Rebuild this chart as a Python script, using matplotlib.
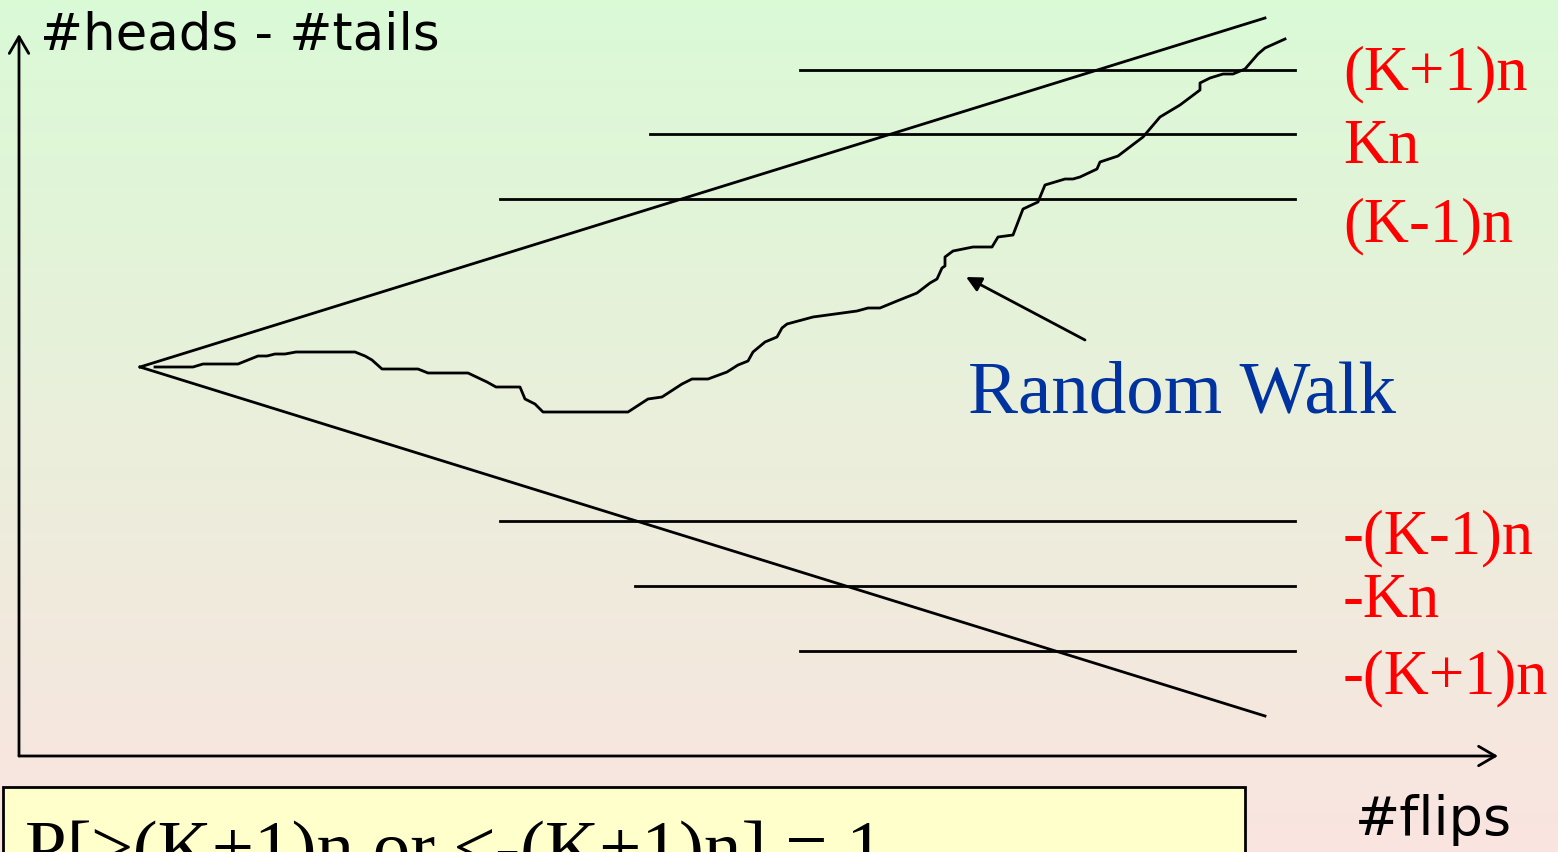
import numpy as np
import matplotlib
matplotlib.use("Agg")
import matplotlib.pyplot as plt
from matplotlib.patches import Rectangle

# --------- data (x = #flips, y = #heads - #tails) ----------
walk_x = [15, 53, 63, 98, 118, 127, 135, 145, 156, 215, 225, 232, 242, 278,
          288, 328, 347, 356, 380, 385, 395, 403, 488, 508, 522, 542, 552,
          568, 587, 598, 608, 613, 625, 637, 642, 647, 673, 717, 728, 740,
          757, 777, 790, 797, 802, 805, 805, 813, 833, 852, 858, 873, 883,
          898, 905, 925, 933, 940, 957, 960, 978, 1003, 1020, 1040, 1060,
          1060, 1070, 1083, 1093, 1105, 1118, 1125, 1145]
walk_y = [0, 0, 3, 3, 11, 11, 13, 13, 15, 15, 11, 7, -2, -2,
          -6, -6, -15, -20, -20, -32, -37, -45, -45, -32, -30, -17, -12,
          -12, -5, 2, 6, 15, 25, 30, 39, 43, 50, 56, 59, 59,
          66, 74, 84, 88, 99, 101, 110, 116, 120, 120, 130, 132, 158,
          165, 182, 188, 188, 190, 198, 205, 211, 230, 250, 262, 277,
          284, 289, 293, 293, 298, 313, 319, 328]

level_labels = ["(K+1)n", "Kn", "(K-1)n", "-(K-1)n", "-Kn", "-(K+1)n"]
level_values = [297, 233, 168, -154, -219, -284]
level_starts = [660, 510, 360, 360, 495, 660]
level_end = 1155
label_baselines = [278, 204, 126, -186, -250, -326]

cone_end_x = 1125
cone_half = 349

LW = 2.0

# --------- figure ----------
fig = plt.figure(figsize=(15.58, 8.52), dpi=100)
ax = fig.add_axes([0, 0, 1, 1])
xmin, xmax, ymin, ymax = -140, 1418, -485, 367
ax.set_xlim(xmin, xmax)
ax.set_ylim(ymin, ymax)
ax.axis("off")

# background gradient green -> pink
top = np.array([218, 250, 214]) / 255
bot = np.array([250, 228, 224]) / 255
t = np.linspace(0, 1, 256)[:, None]
grad = (top[None, :] * (1 - t) + bot[None, :] * t)[:, None, :]
ax.imshow(grad, extent=[xmin, xmax, ymin, ymax], aspect="auto",
          origin="upper", zorder=0)

# axes arrows
arrow_open = dict(arrowstyle="->,head_length=1.2,head_width=0.7",
                  lw=LW, color="black", shrinkA=0, shrinkB=0,
                  mutation_scale=10)
ax.annotate("", xy=(-121, 333), xytext=(-121, -389), arrowprops=arrow_open)
ax.annotate("", xy=(1358, -389), xytext=(-121, -389), arrowprops=arrow_open)

# cone
ax.plot([0, cone_end_x], [0, cone_half], color="black", lw=LW, zorder=3)
ax.plot([0, cone_end_x], [0, -cone_half], color="black", lw=LW, zorder=3)

# level lines and labels
for lab, v, x0, yb in zip(level_labels, level_values, level_starts,
                          label_baselines):
    ax.plot([x0, level_end], [v, v], color="black", lw=LW, zorder=3)
    ax.text(1203, yb, lab, color="#FF0000", fontsize=45,
            family="Liberation Serif", va="baseline", ha="left")

# random walk
ax.plot(walk_x, walk_y, color="black", lw=LW, zorder=4)

# annotation
ax.annotate("", xy=(826, 90), xytext=(945, 27),
            arrowprops=dict(arrowstyle="-|>,head_length=0.9,head_width=0.45",
                            lw=LW, color="black", shrinkA=0, shrinkB=0,
                            mutation_scale=10))
ax.text(828, -46, "Random Walk", color="#0033A0", fontsize=54,
        family="Liberation Serif", va="baseline", ha="left")

# axis titles
ax.text(-100, 317, "#heads - #tails", fontsize=37, family="DejaVu Sans",
        va="baseline", ha="left")
ax.text(1215, -468, "#flips", fontsize=39, family="DejaVu Sans",
        va="baseline", ha="left")

# probability box (cut off at bottom, as in the original slide)
ax.add_patch(Rectangle((-137, -520), 1242, 100, facecolor="#FFFFCC",
                       edgecolor="black", lw=LW, zorder=5, clip_on=False))
ax.text(-115, -505, "P[\u2265(K+1)n or \u2264-(K+1)n] = 1", fontsize=54,
        family="Liberation Serif", va="baseline", ha="left", zorder=6,
        clip_on=False)

fig.savefig("out.png", dpi=100)
